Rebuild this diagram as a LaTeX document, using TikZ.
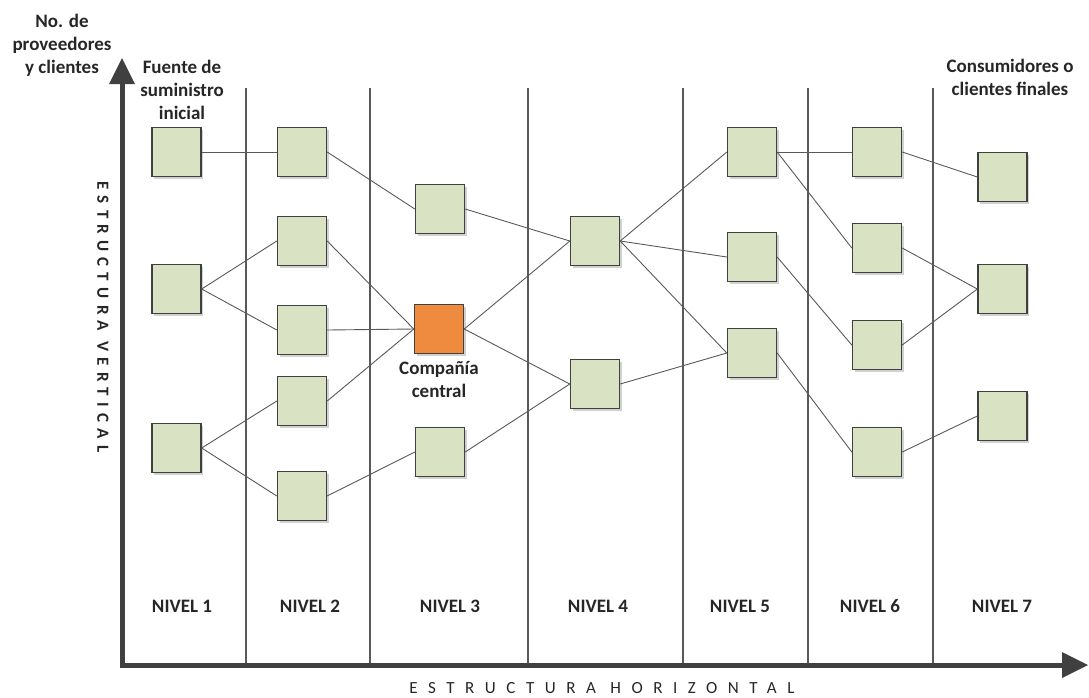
\documentclass[tikz,border=0pt]{standalone}
\usepackage{fontspec}
\usetikzlibrary{shadows}
\setmainfont{Carlito}
\begin{document}
\begin{tikzpicture}[x=1pt,y=-1pt,
  box/.style={draw=black!75,line width=1.4pt,fill=boxgreen,minimum size=49pt,inner sep=0pt,
    drop shadow={shadow xshift=2pt,shadow yshift=-2pt,opacity=0.18,fill=black}},
  hub/.style={box,fill=huborange},
  link/.style={draw=black!65,line width=0.9pt},
  divider/.style={draw=black!65,line width=2.6pt},
  axis/.style={draw=black!75,line width=5pt},
  lbl/.style={font=\fontsize{19}{23}\selectfont\bfseries,text=black!85,align=center,inner sep=0pt},
  lvl/.style={font=\fontsize{19}{21}\selectfont\bfseries,text=black!85,inner sep=0pt}]
\definecolor{boxgreen}{HTML}{D9E2C3}
\definecolor{huborange}{HTML}{EE8B3E}
\useasboundingbox (0,0) rectangle (1089,697);

% column dividers
\foreach \x in {246,370,528,683,808,933}
  \draw[divider] (\x,88) -- (\x,665);

% axes
\coordinate (ytip) at (122,58);
\coordinate (xtip) at (1088,665);
\draw[axis] (122,667.5) -- (122,80);
\draw[axis] (119.5,665) -- (1064,665);
\fill[black!75] (ytip) -- (135,84) -- (109,84) -- cycle;
\fill[black!75] (xtip) -- (1062,652) -- (1062,678) -- cycle;

% level 1
\node[box] (a1) at (176.5,152) {};
\node[box] (a2) at (176.5,289) {};
\node[box] (a3) at (176.5,448) {};
% level 2
\node[box] (b1) at (302,152) {};
\node[box] (b2) at (302,241) {};
\node[box] (b3) at (302,330) {};
\node[box] (b4) at (302,401) {};
\node[box] (b5) at (302,496) {};
% level 3
\node[box] (c1) at (440,209) {};
\node[hub] (c2) at (439,329) {};
\node[box] (c3) at (440,452) {};
% level 4
\node[box] (d1) at (595,241) {};
\node[box] (d2) at (595,384) {};
% level 5
\node[box] (e1) at (752,152) {};
\node[box] (e2) at (752,257) {};
\node[box] (e3) at (752,353) {};
% level 6
\node[box] (f1) at (877,152) {};
\node[box] (f2) at (877,248) {};
\node[box] (f3) at (877,345) {};
\node[box] (f4) at (877,452) {};
% level 7
\node[box] (g1) at (1002.5,177) {};
\node[box] (g2) at (1002.5,289) {};
\node[box] (g3) at (1002.5,416) {};

% supply chain links, right side of one box to left side of the next
\foreach \s/\t in {a1/b1,b1/c1,c1/d1,a2/b2,a2/b3,b2/c2,b3/c2,a3/b4,a3/b5,
                   b4/c2,b5/c3,c3/d2,c2/d1,c2/d2,d1/e1,d1/e2,d1/e3,d2/e3,
                   e1/f1,e1/f2,e2/f3,e3/f4,f1/g1,f2/g2,f3/g2,f4/g3}
  \draw[link] (\s.east) -- (\t.west);

% annotations
\node[lbl] (tyaxis) at (62,45) {No. de\\proveedores\\y clientes};
\node[lbl] (tsource) at (182,90) {Fuente de\\suministro\\inicial};
\node[lbl,anchor=north] (thub) at (c2.south) [yshift=-7pt] {Compañía\\central};
\node[lbl] (tend) at (1010,77) {Consumidores o\\clientes finales};

% level names
\foreach \x/\n in {182/1,310/2,450/3,598/4,740/5,870/6,1002/7}
  \node[lvl] (lvl\n) at (\x,606) {NIVEL \n};

% axis titles
\node[font=\fontsize{17}{19}\selectfont\addfontfeatures{LetterSpace=62},text=black!85,inner sep=0pt] (thoriz) at (602,688) {ESTRUCTURA HORIZONTAL};
\node[font=\fontsize{17}{19}\selectfont\bfseries\addfontfeatures{LetterSpace=37},text=black!85,inner sep=0pt,rotate=-90] (tvert) at (103,317) {ESTRUCTURA VERTICAL};
\end{tikzpicture}
\end{document}
